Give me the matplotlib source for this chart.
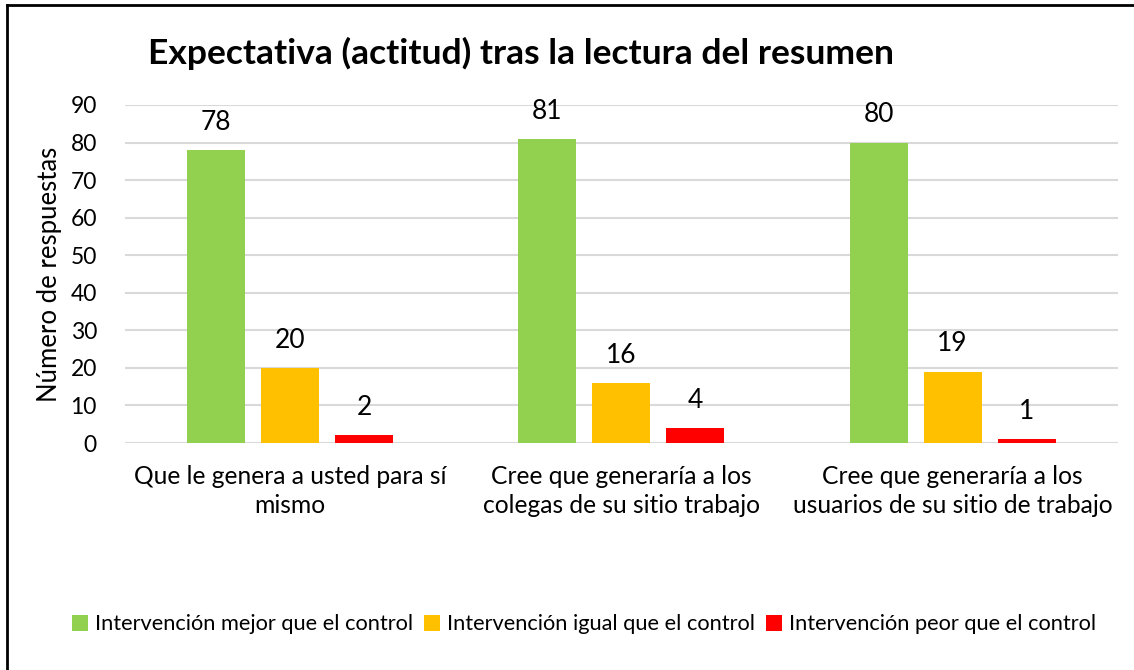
import numpy as np
import matplotlib.pyplot as plt
from matplotlib.lines import Line2D

plt.rcParams['font.family'] = ['Lato', 'DejaVu Sans']

categorias = ['Que le genera a usted para sí\nmismo',
              'Cree que generaría a los\ncolegas de su sitio trabajo',
              'Cree que generaría a los\nusuarios de su sitio de trabajo']
series = ['Intervención mejor que el control',
          'Intervención igual que el control',
          'Intervención peor que el control']
mejor = [78, 81, 80]
igual = [20, 16, 19]
peor = [2, 4, 1]
colores = ['#92D050', '#FFC000', '#FF0000']

fig = plt.figure(figsize=(11.34, 6.7), dpi=100)
ax = fig.add_axes([0.110, 0.3388, 0.876, 0.5045])

x = np.arange(len(categorias))
ancho = 0.175
paso = 0.2235
barras = []
for i, (valores, color, nombre) in enumerate(zip([mejor, igual, peor], colores, series)):
    b = ax.bar(x + (i - 1) * paso, valores, ancho, color=color, label=nombre, zorder=3)
    barras.append(b)
    for xi, v in zip(x + (i - 1) * paso, valores):
        ax.annotate(str(v), (xi, v), xytext=(0, 11), textcoords='offset points',
                    ha='center', va='bottom', fontsize=19)

ax.set_xlim(-0.5, 2.5)
ax.set_ylim(0, 90)
ax.set_yticks(range(0, 91, 10))
ax.tick_params(axis='y', labelsize=16.5, length=0, pad=20)
ax.set_xticks(x)
ax.set_xticklabels(categorias, fontsize=17.7, linespacing=1.3)
ax.tick_params(axis='x', length=0, pad=16)
ax.grid(axis='y', color='#D9D9D9', linewidth=1.5, zorder=0)
for s in ax.spines.values():
    s.set_visible(False)
ax.set_ylabel('Número de respuestas', fontsize=18.5, labelpad=6)

fig.text(0.459, 0.92, 'Expectativa (actitud) tras la lectura del resumen',
         ha='center', va='center', fontsize=25.5, fontweight='bold')

fig.legend(handles=barras, labels=series, loc='center', bbox_to_anchor=(0.515, 0.068),
           ncol=3, frameon=False, fontsize=15.7, handlelength=0.75, handleheight=0.75,
           handletextpad=0.3, columnspacing=0.5)

# borde del gráfico (solo superior e izquierdo visibles)
fig.add_artist(Line2D([7 / 1134, 7 / 1134], [0, 1 - 5 / 670], color='black', linewidth=2,
                      transform=fig.transFigure))
fig.add_artist(Line2D([7 / 1134, 1], [1 - 5 / 670, 1 - 5 / 670], color='black', linewidth=2,
                      transform=fig.transFigure))

fig.savefig('out.png', dpi=100)
